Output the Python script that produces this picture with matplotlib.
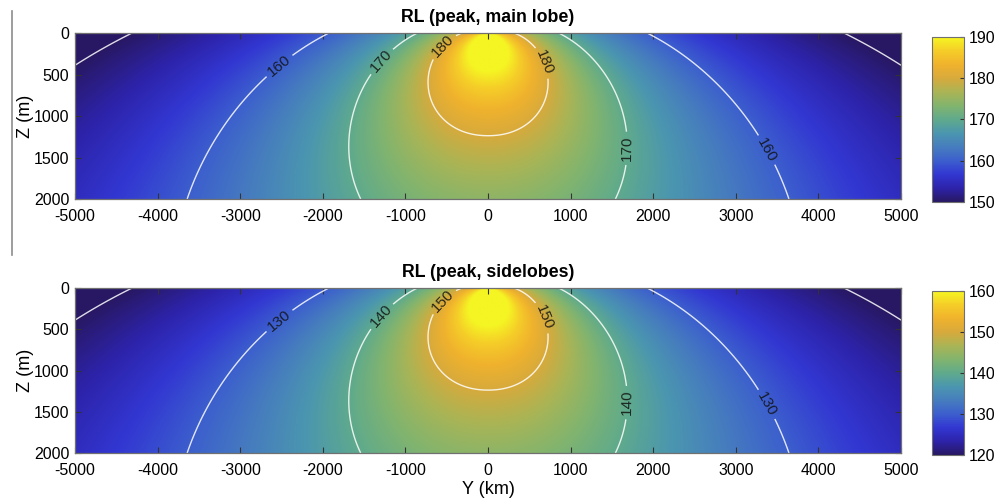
import numpy as np
import matplotlib
matplotlib.use("Agg")
import matplotlib.pyplot as plt
from matplotlib.colors import LinearSegmentedColormap
from matplotlib.lines import Line2D

plt.rcParams["font.family"] = ["Liberation Sans", "DejaVu Sans"]
plt.rcParams["axes.unicode_minus"] = False

# -------------------------
# Chart values
# -------------------------
titles = ["RL (peak, main lobe)", "RL (peak, sidelobes)"]
level_offsets = [0.0, -30.0]              # sidelobes sit 30 dB below the main lobe
color_limits = [(150, 190), (120, 160)]
contour_levels = [[150, 160, 170, 180], [120, 130, 140, 150]]
cbar_ticks = [[150, 160, 170, 180, 190], [120, 130, 140, 150, 160]]
y_ticks = [-5000, -4000, -3000, -2000, -1000, 0, 1000, 2000, 3000, 4000, 5000]
z_ticks = [0, 500, 1000, 1500, 2000]

# propagation model
SOURCE_LEVEL = 266.85  # dB, on-axis level extrapolated to 1 m
SPREADING = 28.0       # N in N*log10(r)
CORE_RADIUS = 250.0    # m, softens the field near the source
NEAR_DROP = 8.0        # dB, near-source roll-off
NEAR_SCALE = 200.0     # m
BEAM_DROP = 15.3       # dB lost at grazing angles
BEAM_POWER = 2.6
APEX_HEIGHT = 40.0     # m, beam apex above the surface

# -------------------------
# Colormap (parula-like, as rendered in the figure)
# -------------------------
cmap_pts = [
    (40, 24, 100), (45, 35, 170), (50, 55, 210), (60, 95, 205),
    (70, 125, 190), (75, 150, 175), (95, 170, 140), (130, 180, 110),
    (170, 180, 85), (215, 170, 60), (240, 178, 45), (245, 205, 40),
    (245, 245, 35),
]
rl_cmap = LinearSegmentedColormap.from_list(
    "rl", [tuple(c / 255 for c in p) for p in cmap_pts], N=256)

# -------------------------
# Field on a Y-Z grid
# -------------------------
Y = np.linspace(-5000, 5000, 801)
Z = np.linspace(0, 2000, 321)
YY, ZZ = np.meshgrid(Y, Z)
r = np.hypot(YY, ZZ)
grazing = np.arctan2(np.abs(YY), ZZ + APEX_HEIGHT) / (np.pi / 2)
rl_main = (SOURCE_LEVEL
           - SPREADING / 2 * np.log10(r ** 2 + CORE_RADIUS ** 2)
           - BEAM_DROP * grazing ** BEAM_POWER
           - NEAR_DROP * np.exp(-r / NEAR_SCALE))

label_spots = [(-2580, 330), (-1280, 350), (-520, 180),
               (590, 390), (1700, 1390), (3480, 1350)]

# -------------------------
# Figure
# -------------------------
fig = plt.figure(figsize=(9.95, 5.01), dpi=100)
ax_boxes = [[0.0754, 0.6028, 0.8302, 0.3313], [0.0754, 0.0958, 0.8302, 0.3293]]
cb_boxes = [[0.9367, 0.5970, 0.0322, 0.3293], [0.9367, 0.0918, 0.0322, 0.3273]]

for i in range(2):
    ax = fig.add_axes(ax_boxes[i])
    field = rl_main + level_offsets[i]
    vmin, vmax = color_limits[i]
    im = ax.imshow(field, extent=[Y[0], Y[-1], Z[-1], Z[0]], aspect="auto",
                   cmap=rl_cmap, vmin=vmin, vmax=vmax, interpolation="bilinear")
    cs = ax.contour(Y, Z, field, levels=contour_levels[i],
                    colors="white", linewidths=1.0, alpha=0.85)
    ax.clabel(cs, fmt="%d", fontsize=11, colors="#111111",
              manual=label_spots, inline=True, inline_spacing=4)
    ax.set_xlim(-5000, 5000)
    ax.set_ylim(2000, 0)
    ax.set_xticks(y_ticks)
    ax.set_yticks(z_ticks)
    ax.tick_params(direction="in", top=True, right=True, length=4,
                   labelsize=11.5, color="#333333", pad=4)
    ax.tick_params(axis="x", pad=7)
    for sp in ax.spines.values():
        sp.set_color("#707070")
        sp.set_linewidth(0.9)
    ax.set_title(titles[i], fontsize=12.8, fontweight="bold", pad=8)
    ax.set_ylabel("Z (m)", fontsize=13, labelpad=0)
    if i == 1:
        ax.set_xlabel("Y (km)", fontsize=13, labelpad=2)

    cax = fig.add_axes(cb_boxes[i])
    cb = fig.colorbar(im, cax=cax, ticks=cbar_ticks[i])
    cb.ax.tick_params(direction="in", length=3, labelsize=11.5, color="#333333")
    cb.outline.set_edgecolor("#707070")

# thin vertical rule at the left edge of the top panel
fig.add_artist(Line2D([12 / 995, 12 / 995], [1 - 11 / 501, 1 - 255 / 501],
                      transform=fig.transFigure, color="#8c8c8c", lw=1.2))

fig.savefig("out.png", dpi=100)
